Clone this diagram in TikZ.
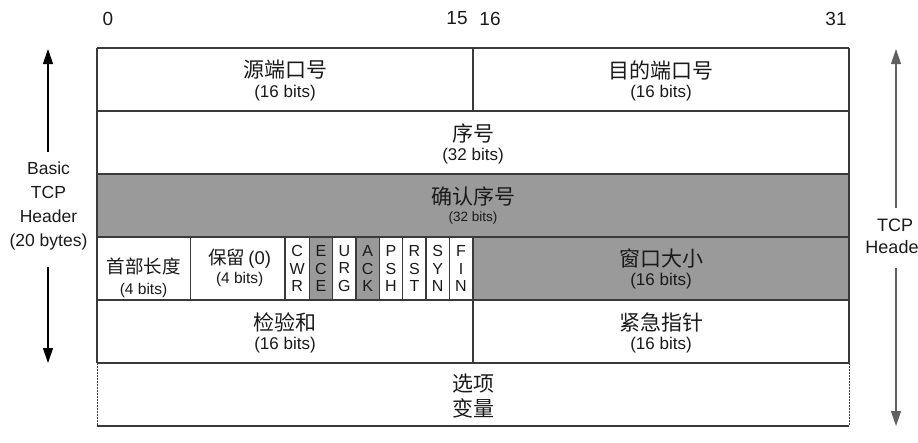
\documentclass[tikz,border=0pt]{standalone}
\usepackage{fontspec}
\setmainfont{Liberation Sans}
\newfontfamily\cjk{Noto Sans CJK SC}
\usetikzlibrary{arrows.meta}
\definecolor{cellgray}{HTML}{9A9A9A}
\definecolor{linegray}{HTML}{3A3A3A}
\definecolor{txt}{HTML}{1A1A1A}
\tikzset{
  cellline/.style={draw=linegray, line width=1.3pt},
  dotline/.style={draw=linegray, line width=0.8pt, dash pattern=on 1.5pt off 1.5pt},
  grayfill/.style={fill=cellgray},
  zh/.style={font=\cjk\fontsize{21}{24}\selectfont, text=txt, inner sep=0pt},
  zhs/.style={font=\cjk\fontsize{18.5}{22}\selectfont, text=txt, inner sep=0pt},
  bits/.style={font=\fontsize{17}{20}\selectfont, text=txt, inner sep=0pt},
  bitss/.style={font=\fontsize{15.5}{18}\selectfont, text=txt, inner sep=0pt},
  bitsxs/.style={font=\fontsize{13.5}{16}\selectfont, text=txt, inner sep=0pt},
  flag/.style={font=\fontsize{16}{17.5}\selectfont, text=txt, inner sep=0pt, align=center},
  num/.style={font=\fontsize{19}{22}\selectfont, text=txt, inner sep=0pt},
  side/.style={font=\fontsize{17.5}{24.3}\selectfont, text=txt, inner sep=0pt, align=center},
  sider/.style={font=\fontsize{18}{22}\selectfont, text=txt, inner sep=0pt, align=center},
  arr/.style={line width=1.2pt, -{Triangle[length=15pt,width=10pt]}},
}
\begin{document}
\begin{tikzpicture}[x=1pt,y=-1pt]
\useasboundingbox (0,0) rectangle (918,442);
% fills
\fill[grayfill] (97,174) rectangle (849,237);
\fill[grayfill] (473,237) rectangle (849,300);
\fill[grayfill] (309.3,237) rectangle (332.7,300);
\fill[grayfill] (356,237) rectangle (379.3,300);
% horizontal lines
\foreach \y in {48,111,174,237,300,363,426}
  \draw[cellline] (97,\y) -- (849,\y);
% outer verticals
\draw[cellline] (97,48) -- (97,363);
\draw[cellline] (849,48) -- (849,363);
\draw[dotline] (97,363) -- (97,426);
\draw[dotline] (849,363) -- (849,426);
% middle verticals
\draw[cellline] (473,48) -- (473,111);
\draw[cellline] (473,237) -- (473,363);
% row 4 dividers
\foreach \x in {190.7,285,309.3,332.7,356,379.3,402.7,426,449.3}
  \draw[cellline] (\x,237) -- (\x,300);

% bit numbers
\node[num] (n0) at (108,18.5) {0};
\node[num] (n15) at (457,18.5) {15};
\node[num] (n16) at (490,18.5) {16};
\node[num] (n31) at (836,18.5) {31};

% row 1
\node[zh] (sp) at (285,70) {源端口号};
\node[bits] (spb) at (285,93) {(16 bits)};
\node[zh] (dp) at (661,70) {目的端口号};
\node[bits] (dpb) at (661,93) {(16 bits)};
% row 2
\node[zh] (seq) at (473,133) {序号};
\node[bits] (seqb) at (473,156) {(32 bits)};
% row 3
\node[zh] (ack) at (473,196) {确认序号};
\node[bitsxs] (ackb) at (473,218) {(32 bits)};
% row 4
\node[zhs] (hl) at (143.5,266) {首部长度};
\node[bitss] (hlb) at (143.5,290) {(4 bits)};
\node[zhs,anchor=base] (rsv) at (239.7,264) {保留\,{\fontspec{Liberation Sans}(0)}};
\node[bitss] (rsvb) at (239.7,279) {(4 bits)};
\node[flag] (fc) at (297.2,268.5) {C\\W\\R};
\node[flag] (fe) at (321,268.5) {E\\C\\E};
\node[flag] (fu) at (344.4,268.5) {U\\R\\G};
\node[flag] (fa) at (367.7,268.5) {A\\C\\K};
\node[flag] (fp) at (391,268.5) {P\\S\\H};
\node[flag] (fr) at (414.4,268.5) {R\\S\\T};
\node[flag] (fs) at (437.7,268.5) {S\\Y\\N};
\node[flag] (ff) at (461,268.5) {F\\I\\N};
\node[zh] (win) at (661,258) {窗口大小};
\node[bits] (winb) at (661,281) {(16 bits)};
% row 5
\node[zh] (cs) at (285,322) {检验和};
\node[bits] (csb) at (285,345) {(16 bits)};
\node[zh] (up) at (661,322) {紧急指针};
\node[bits] (upb) at (661,345) {(16 bits)};
% row 6
\node[zh] (opt) at (473,384) {选项};
\node[zh] (var) at (473,408) {变量};

% left label and arrows
\node[side] (basic) at (48.5,206) {Basic\\TCP\\Header\\(20 bytes)};
\coordinate (ltop) at (48,49);
\coordinate (lbot) at (48,363);
\coordinate (lup) at (48,152);
\coordinate (ldn) at (48,267);
\draw[arr, draw=black, fill=black] (lup) -- (ltop);
\draw[arr, draw=black, fill=black] (ldn) -- (lbot);

% right label and arrows
\node[sider] (tcph) at (895,236) {TCP\\Header};
\coordinate (rtop) at (896,49);
\coordinate (rbot) at (896,426);
\coordinate (rup) at (896,208);
\coordinate (rdn) at (896,268);
\draw[arr, draw=linegray!80, fill=linegray!80] (rup) -- (rtop);
\draw[arr, draw=linegray!80, fill=linegray!80] (rdn) -- (rbot);
\end{tikzpicture}
\end{document}
